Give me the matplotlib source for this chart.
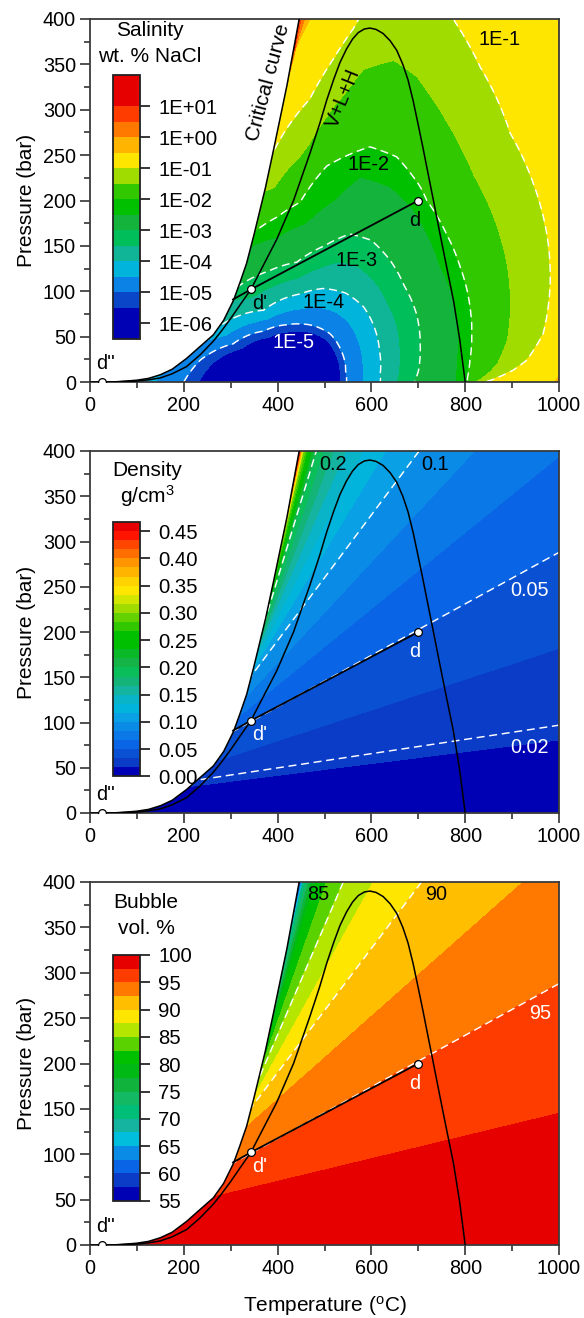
import numpy as np
import matplotlib
matplotlib.use("Agg")
import matplotlib.pyplot as plt
from matplotlib.patches import Polygon
from matplotlib.ticker import MultipleLocator

plt.rcParams['font.family'] = ['Liberation Sans', 'DejaVu Sans']
plt.rcParams['mathtext.fontset'] = 'custom'
plt.rcParams['mathtext.rm'] = 'Liberation Sans'
plt.rcParams['mathtext.it'] = 'Liberation Sans:italic'

W, H = 584, 1318

# ---------------- phase boundaries (T in degC, P in bar) ----------------
crit_T = [20, 60, 100, 125, 150, 175, 206, 230, 263, 285, 306, 320, 334, 350, 374, 391, 420, 446, 455]
crit_P = [0, 0.3, 2, 4, 8, 14, 26, 37, 52, 68, 90, 110, 131, 163, 214, 255, 327, 400, 425]
vlh_T = [0, 50, 100, 125, 150, 175, 206, 235, 263, 280, 300, 320, 343, 370, 398, 434, 469, 490,
         505, 520, 533, 547, 560, 572, 585, 597, 610, 625, 640, 654, 667, 678, 689, 700, 710,
         718, 730, 746, 760, 775, 788, 800]
vlh_P = [0, 0.2, 1.0, 2.4, 4.5, 9, 17, 30, 45, 56, 70, 85, 102, 129, 157, 200, 252, 285,
         311, 334, 352, 367, 378, 385, 389, 390, 388.5, 384, 376, 365.5, 350, 333, 310, 283, 258,
         237, 206, 164, 128, 90, 48, 0]

# fluid path d -> d' -> boundary, and the marked points
path_T = [700, 343, 305]
path_P = [200, 102, 91]
pts_T = [700, 343, 25]
pts_P = [200, 102, 0]

# ---------------- salinity isolines (log10 wt.% NaCl) ----------------
sal_levels = [-5, -4, -3, -2.5, -2, -1, -0.5, 0, 0.5]
sal_m5_T = [200, 235, 305, 370, 419, 445, 476, 512, 535, 545, 547]
sal_m5_P = [0, 24, 42, 56, 63, 64, 62, 53, 35, 12, 0]
sal_m4_T = [80, 270, 370, 448, 497, 545, 583, 605, 617, 619, 619]
sal_m4_P = [0, 59, 79, 97, 103, 98, 83, 62, 35, 10, 0]
sal_m3_T = [20, 318, 380, 441, 500, 554, 600, 640, 670, 696, 704, 700, 692]
sal_m3_P = [0, 106, 122, 132, 150, 163, 156, 134, 106, 75, 40, 12, 0]
sal_m25_T = [-5, 300, 345, 400, 460, 520, 576, 640, 690, 711, 745, 775, 785, 783, 781]
sal_m25_P = [0, 150, 150, 160, 175, 200, 226, 215, 190, 171, 130, 90, 50, 20, 0]
sal_m2_T = [-30, 330, 362, 400, 448, 505, 569, 597, 654, 704, 718, 760, 789, 810, 814, 810, 805, 804]
sal_m2_P = [0, 160, 170, 182, 198, 238, 254, 259, 248, 215, 200, 163, 127, 83, 53, 24, 5, 0]
sal_m1_T = [-80, 340, 384, 419, 469, 519, 561, 573, 620, 700, 760, 778, 832, 896, 945, 974, 981, 966, 931, 902, 860, 840]
sal_m1_P = [0, 240, 246, 279, 312, 356, 389, 400, 440, 450, 420, 397, 347, 274, 219, 163, 108, 53, 24, 13, 3, 0]
sal_m05_T = [-130, 300, 421, 440, 469, 500, 700, 920, 1080, 1090, 1060, 1010, 990]
sal_m05_P = [0, 280, 330, 370, 400, 450, 530, 520, 380, 200, 60, 12, 0]
sal_p0_T = [-180, 320, 428, 445, 458, 480, 700, 1000, 1150, 1150, 1030, 1005]
sal_p0_P = [0, 310, 345, 380, 400, 460, 600, 600, 350, 100, 5, 0]
sal_p05_T = [-230, 340, 436, 450, 480, 700, 1000, 1250, 1250, 1100]
sal_p05_P = [0, 340, 365, 400, 500, 680, 700, 400, 100, 0]
sal_core = -9.0
sal_center = (450, 0)

sal_bands = [-6.5, -5.5, -5, -4.5, -4, -3.5, -3, -2.5, -2, -1.5, -1, -0.5, 0, 0.5, 1, 2]
sal_colors = ['#0000B4', '#0A46C8', '#0A82E6', '#00B4DC', '#10B496', '#00BE5A', '#14B43C',
              '#00C000', '#32C800', '#A0DC00', '#FFE600', '#FFB400', '#FF7800', '#FF3C00', '#E60000']
sal_ticks = [-6, -5, -4, -3, -2, -1, 0, 1]
sal_ticklabels = ['1E-06', '1E-05', '1E-04', '1E-03', '1E-02', '1E-01', '1E+00', '1E+01']
sal_dashed = [-5, -4, -3, -2, -1]

# ---------------- density isolines (g/cm3), each a straight segment ----------------
dens_values = [0.0, 0.02, 0.05, 0.10, 0.15, 0.20, 0.30, 0.40, 0.45]
dens_T1 = [0, 249, 304, 343, 357, 366, 380, 415, 441]
dens_P1 = [0, 38, 90, 151, 180, 201, 235, 320, 385]
dens_T2 = [1000, 1000, 1000, 696, 545, 480, 455, 449, 447]
dens_P2 = [0, 97, 288, 396, 400, 396, 400, 400, 400]
dens_bands = [k / 60 for k in range(29)]
dens_colors = ['#0000B4', '#0A3CC8', '#0A50D2', '#0A64E6', '#0A78E6', '#0A8CE6', '#0AA0E6',
               '#00B4DC', '#0AB4C8', '#14B4A0', '#14B478', '#0ABE5A', '#14B446', '#0AB928',
               '#00BE00', '#00C000', '#32C800', '#64D200', '#A0DC00', '#D2E600', '#FFE600',
               '#FFD200', '#FFB400', '#FF9600', '#FF6E00', '#FF4600', '#FF1400', '#E60000']
dens_ticks = [0, 0.05, 0.10, 0.15, 0.20, 0.25, 0.30, 0.35, 0.40, 0.45]
dens_dashed = [0.02, 0.05, 0.10, 0.20]

# ---------------- bubble volume isolines (vol.%) ----------------
bub_values = [100, 97.5, 95, 92.5, 90, 87.5, 85, 80, 70, 60, 55]
bub_T1 = [0, 263, 304, 334, 343, 352, 357, 366, 380, 415, 441]
bub_P1 = [0, 53, 90, 130, 151, 165, 180, 201, 235, 320, 385]
bub_T2 = [1000, 1000, 1000, 924, 707, 604, 540, 480, 455, 449, 447]
bub_P2 = [0, 145, 288, 400, 400, 400, 400, 400, 400, 400, 400]
bub_bands = [55 + 2.5 * k for k in range(19)]
bub_colors = ['#0000B4', '#0A3CC8', '#0A64E6', '#0A8CE6', '#00BEDC', '#14B4A0', '#00BE78',
              '#14B964', '#10B43C', '#00B914', '#00C000', '#5AD200', '#B4E600', '#FFE600',
              '#FFBE00', '#FF7800', '#FF3C00', '#E60000']
bub_ticks = [55, 60, 65, 70, 75, 80, 85, 90, 95, 100]
bub_dashed = [85, 90, 95]

# ---------------- grid ----------------
T = np.linspace(0, 1000, 1001)
P = np.linspace(0, 400, 801)
TT, PP = np.meshgrid(T, P)
SX, SY = 0.469, 0.9075   # display scale of one degC / one bar


def radial_field(curves, levels, center, core):
    X = (TT - center[0]) * SX
    Y = (PP - center[1]) * SY
    th = np.arctan2(Y, X)
    r = np.hypot(X, Y)
    radii = [np.zeros_like(r)]
    for cT, cP in curves:
        cx = (np.asarray(cT, float) - center[0]) * SX
        cy = (np.asarray(cP, float) - center[1]) * SY
        cth = np.arctan2(cy, cx)
        cr = np.hypot(cx, cy)
        o = np.argsort(cth)
        radii.append(np.interp(th, cth[o], cr[o]))
    R = np.maximum.accumulate(np.array(radii), axis=0)
    R += np.arange(R.shape[0])[:, None, None] * 1e-6
    V = np.array([core] + list(levels))
    idx = np.clip((r[None] >= R).sum(axis=0) - 1, 0, len(V) - 2)
    r0 = np.take_along_axis(R, idx[None], 0)[0]
    r1 = np.take_along_axis(R, idx[None] + 1, 0)[0]
    return V[idx] + (V[idx + 1] - V[idx]) * (r - r0) / (r1 - r0)


def fan_field(values, T1, P1, T2, P2):
    T1, P1, T2, P2 = (np.asarray(a, float) for a in (T1, P1, T2, P2))
    slope = (P2 - P1) / (T2 - T1)
    Pk = P1[:, None] + slope[:, None] * (T[None, :] - T1[:, None])
    Pk = np.maximum.accumulate(Pk, axis=0) + np.arange(len(values))[:, None] * 1e-6
    F = np.empty_like(TT)
    for j in range(T.size):
        F[:, j] = np.interp(P, Pk[:, j], values)
    return F


sal_curves = [(sal_m5_T, sal_m5_P), (sal_m4_T, sal_m4_P), (sal_m3_T, sal_m3_P),
              (sal_m25_T, sal_m25_P), (sal_m2_T, sal_m2_P), (sal_m1_T, sal_m1_P),
              (sal_m05_T, sal_m05_P), (sal_p0_T, sal_p0_P), (sal_p05_T, sal_p05_P)]
F_sal = radial_field(sal_curves, sal_levels, sal_center, sal_core)
F_den = fan_field(dens_values, dens_T1, dens_P1, dens_T2, dens_P2)
F_bub = fan_field(bub_values, bub_T1, bub_P1, bub_T2, bub_P2)

# ---------------- figure ----------------
fig = plt.figure(figsize=(W / 100, H / 100), dpi=100)


def frac(x, y):
    return x / W, 1 - y / H


def axes_px(x0, y0, x1, y1):
    return fig.add_axes([x0 / W, 1 - y1 / H, (x1 - x0) / W, (y1 - y0) / H])


panels = [
    dict(box=(90, 19, 559, 382), cbox=(113, 75, 140, 339), F=F_sal, bands=sal_bands,
         colors=sal_colors, dashed=sal_dashed, ticks=sal_ticks, ticklabels=sal_ticklabels,
         title=('Salinity', 'wt. % NaCl'), title_y=(31, 56), title_x=150,
         dcol='black'),
    dict(box=(90, 451, 559, 813), cbox=(113, 522, 140, 776.5), F=F_den, bands=dens_bands,
         colors=dens_colors, dashed=dens_dashed, ticks=dens_ticks,
         ticklabels=['%.2f' % v for v in dens_ticks],
         title=('Density', 'g/cm$^3$'), title_y=(470, 496), title_x=147,
         dcol='white'),
    dict(box=(90, 882, 559, 1245), cbox=(113, 955, 140, 1200.7), F=F_bub, bands=bub_bands,
         colors=bub_colors, dashed=bub_dashed, ticks=bub_ticks,
         ticklabels=[str(v) for v in bub_ticks],
         title=('Bubble', 'vol. %'), title_y=(902, 929), title_x=146,
         dcol='white'),
]

dom_T = list(crit_T) + [1100, 1100, crit_T[0]]
dom_P = list(crit_P) + [crit_P[-1], -10, -10]

FS_TICK = 14.3
FS_CB = 14.6
FS_LAB = 15

axes = []
for k, pn in enumerate(panels):
    ax = axes_px(*pn['box'])
    axes.append(ax)
    bands = pn['bands']
    Fc = np.clip(pn['F'], bands[0] + 1e-9, bands[-1] - 1e-9)
    cf = ax.contourf(TT, PP, Fc, levels=bands, colors=pn['colors'])
    cl = ax.contour(TT, PP, pn['F'], levels=pn['dashed'], colors='white',
                    linewidths=1.05, linestyles=[(0, (5.5, 3.2))])
    clip = Polygon(np.column_stack([dom_T, dom_P]), closed=True, transform=ax.transData)
    cf.set_clip_path(clip)
    cl.set_clip_path(clip)

    ax.plot(crit_T, crit_P, color='black', lw=1.1, zorder=5)
    ax.plot(vlh_T, vlh_P, color='black', lw=1.1, zorder=5)
    ax.plot(path_T, path_P, color='black', lw=1.3, zorder=6)
    ax.plot(pts_T, pts_P, 'o', ms=5.6, mfc='white', mec='black', mew=0.9, zorder=7)

    ax.text(693, 178, 'd', color=pn['dcol'], fontsize=FS_TICK, ha='center', va='center', zorder=8)
    ax.text(361, 87, "d'", color=pn['dcol'], fontsize=FS_TICK, ha='center', va='center', zorder=8)
    ax.text(33, 20, "d''", color='black', fontsize=FS_TICK, ha='center', va='center', zorder=8)

    ax.set_xlim(0, 1000)
    ax.set_ylim(0, 400)
    ax.xaxis.set_major_locator(MultipleLocator(200))
    ax.xaxis.set_minor_locator(MultipleLocator(100))
    ax.yaxis.set_major_locator(MultipleLocator(50))
    ax.yaxis.set_minor_locator(MultipleLocator(25))
    ax.tick_params(which='both', direction='out', top=False, right=False,
                   labelsize=FS_TICK, width=1.1, color='#222222', pad=3)
    ax.tick_params(which='major', length=7)
    ax.tick_params(which='minor', length=4)
    for s in ax.spines.values():
        s.set_linewidth(1.3)
        s.set_color('#3a3a3a')

    cax = axes_px(*pn['cbox'])
    cb = fig.colorbar(cf, cax=cax, ticks=pn['ticks'], spacing='proportional')
    cb.ax.set_yticklabels(pn['ticklabels'])
    cb.ax.minorticks_off()
    cb.outline.set_linewidth(1.3)
    cb.outline.set_edgecolor('#222222')
    cax.tick_params(direction='out', length=7, width=1.1, labelsize=FS_CB, pad=6)

    x, y = frac(pn['title_x'], pn['title_y'][0])
    fig.text(x, y, pn['title'][0], fontsize=FS_LAB, ha='center', va='center')
    x, y = frac(pn['title_x'], pn['title_y'][1])
    fig.text(x, y, pn['title'][1], fontsize=FS_LAB, ha='center', va='center')

    cy = (pn['box'][1] + pn['box'][3]) / 2
    x, y = frac(26, cy)
    fig.text(x, y, 'Pressure (bar)', fontsize=FS_LAB, rotation=90, ha='center', va='center')

x, y = frac(324.5, 1306)
fig.text(x, y, r'Temperature ($^\mathrm{o}$C)', fontsize=FS_LAB, ha='center', va='center')

# annotations in the salinity panel
a1 = axes[0]
a1.text(380, 330, 'Critical curve', rotation=75, fontsize=15, ha='center', va='center')
a1.text(540, 313, 'V+L+H', rotation=68, fontsize=FS_TICK, ha='center', va='center')
for txt, tx, py, c in [('1E-1', 874, 377, 'black'), ('1E-2', 593, 240, 'black'),
                       ('1E-3', 569, 134, 'black'), ('1E-4', 497, 88, 'black'),
                       ('1E-5', 433, 44, 'white')]:
    a1.text(tx, py, txt, color=c, fontsize=FS_TICK, ha='center', va='center')

a2 = axes[1]
for txt, tx, py, c in [('0.2', 519, 385, 'black'), ('0.1', 736, 385, 'black'),
                       ('0.05', 938, 246, 'white'), ('0.02', 938, 72, 'white')]:
    a2.text(tx, py, txt, color=c, fontsize=FS_TICK, ha='center', va='center')

a3 = axes[2]
for txt, tx, py, c in [('85', 487, 386, 'black'), ('90', 739, 386, 'black'),
                       ('95', 959, 255, 'white')]:
    a3.text(tx, py, txt, color=c, fontsize=FS_TICK, ha='center', va='center')

fig.savefig('out.png', dpi=100)
